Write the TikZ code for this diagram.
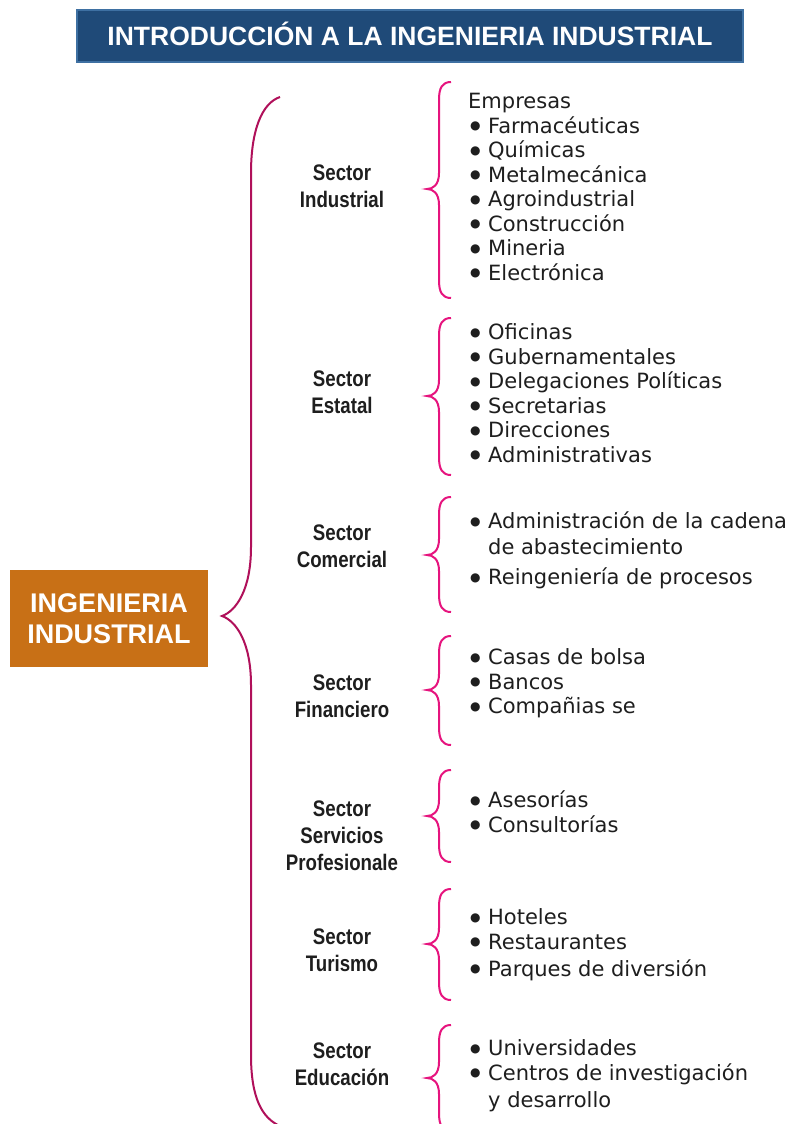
\documentclass[tikz,border=0pt]{standalone}
\usepackage{fontspec}
\setmainfont{DejaVu Sans}
\newfontfamily\headfont{Liberation Sans}
\newfontfamily\sectfont[FakeStretch=0.83]{Liberation Sans}
\usetikzlibrary{positioning}
\definecolor{titleblue}{RGB}{31,74,120}
\definecolor{titleedge}{RGB}{62,112,162}
\definecolor{ieorange}{RGB}{200,112,22}
\definecolor{bigbrace}{RGB}{176,16,90}
\definecolor{smallbrace}{RGB}{230,20,126}
\definecolor{txtdark}{RGB}{30,30,30}
\tikzset{
  titlebox/.style={rectangle,fill=titleblue,draw=titleedge,line width=1.5pt,minimum width=666pt,minimum height=52pt,text=white,text height=18.5pt,text depth=0pt,font=\headfont\bfseries\fontsize{26.5}{30}\selectfont},
  mainbox/.style={rectangle,fill=ieorange,minimum width=198pt,minimum height=97pt,text=white,align=center,font=\headfont\bfseries\fontsize{27}{31}\selectfont},
  sectornode/.style={anchor=north,align=center,inner sep=0pt,text=txtdark,font=\sectfont\bfseries\fontsize{22.5}{27}\selectfont},
  listnode/.style={anchor=north west,align=left,inner sep=0pt,text=txtdark,font=\fontsize{21}{24.5}\selectfont},
  bigbr/.style={draw=bigbrace,line width=2pt},
  smallbr/.style={draw=smallbrace,line width=2pt}
}
\newcommand{\lntop}{\rule{0pt}{20pt}}
\newcommand{\itm}{\makebox[20pt][l]{\hspace{2pt}\raisebox{3.6pt}{\fontsize{12}{12}\selectfont ●}}}
\newcommand{\cont}{\hspace*{20pt}}
% top, tip, bottom of a sector brace
\newcommand{\sectbrace}[3]{%
  \draw[smallbr] (451,#1) .. controls (442,#1) and (439,#1+6) .. (439,#1+18)
    -- (439,#2-16) .. controls (439,#2-4) and (433,#2) .. (427,#2)
    .. controls (433,#2) and (439,#2+4) .. (439,#2+16)
    -- (439,#3-18) .. controls (439,#3-6) and (442,#3) .. (451,#3);}

\begin{document}
\begin{tikzpicture}[x=1pt,y=-1pt]
  \clip (0,0) rectangle (789,1124);
  \fill[white] (0,0) rectangle (789,1124);

  %% title
  \node[titlebox] (title) at (410,36) {INTRODUCCIÓN A LA INGENIERIA INDUSTRIAL};

  %% main box
  \node[mainbox] (ing) at (109,618.5) {INGENIERIA\\INDUSTRIAL};

  %% big brace
  \draw[bigbr] (280,97) .. controls (262,103) and (251,130) .. (251,173)
    -- (251,547) .. controls (251,590) and (236,611) .. (222,616)
    .. controls (236,621) and (251,642) .. (251,685)
    -- (251,1055) .. controls (251,1098) and (262,1118) .. (280,1126);

  %% sectors
  \node[sectornode] (sInd) at (342,160) {\lntop Sector\\Industrial};
  \node[sectornode] (sEst) at (342,366) {\lntop Sector\\Estatal};
  \node[sectornode] (sCom) at (342,520) {\lntop Sector\\Comercial};
  \node[sectornode] (sFin) at (342,670) {\lntop Sector\\Financiero};
  \node[sectornode] (sSer) at (342,796) {\lntop Sector\\Servicios\\Profesionale};
  \node[sectornode] (sTur) at (342,924) {\lntop Sector\\Turismo};
  \node[sectornode] (sEdu) at (342,1038) {\lntop Sector\\Educación};

  %% sector braces
  \sectbrace{82}{189}{298}
  \sectbrace{318}{396}{475}
  \sectbrace{497}{555}{612}
  \sectbrace{636}{690}{745}
  \sectbrace{770}{816}{862}
  \sectbrace{889}{944}{1000}
  \sectbrace{1025}{1078}{1131}

  %% lists
  \node[listnode] (lInd) at (468,88.5) {\lntop Empresas\\
    \itm Farmacéuticas\\ \itm Químicas\\ \itm Metalmecánica\\ \itm Agroindustrial\\
    \itm Construcción\\ \itm Mineria\\ \itm Electrónica};
  \node[listnode] (lEst) at (468,319.5) {\lntop\itm Oficinas\\ \itm Gubernamentales\\
    \itm Delegaciones Políticas\\ \itm Secretarias\\ \itm Direcciones\\ \itm Administrativas};
  \node[listnode] (lCom) at (468,508.5) {\lntop\itm Administración de la cadena\\[1.5pt]
    \cont de abastecimiento\\[5.5pt] \itm Reingeniería de procesos};
  \node[listnode] (lFin) at (468,644.5) {\lntop\itm Casas de bolsa\\ \itm Bancos\\ \itm Compañias se};
  \node[listnode] (lSer) at (468,787.5) {\lntop\itm Asesorías\\ \itm Consultorías};
  \node[listnode] (lTur) at (468,904.5) {\lntop\itm Hoteles\\ \itm Restaurantes\\[2.5pt]
    \itm Parques de diversión};
  \node[listnode] (lEdu) at (468,1035.5) {\lntop\itm Universidades\\ \itm Centros de investigación\\[3pt]
    \cont y desarrollo};
\end{tikzpicture}
\end{document}
